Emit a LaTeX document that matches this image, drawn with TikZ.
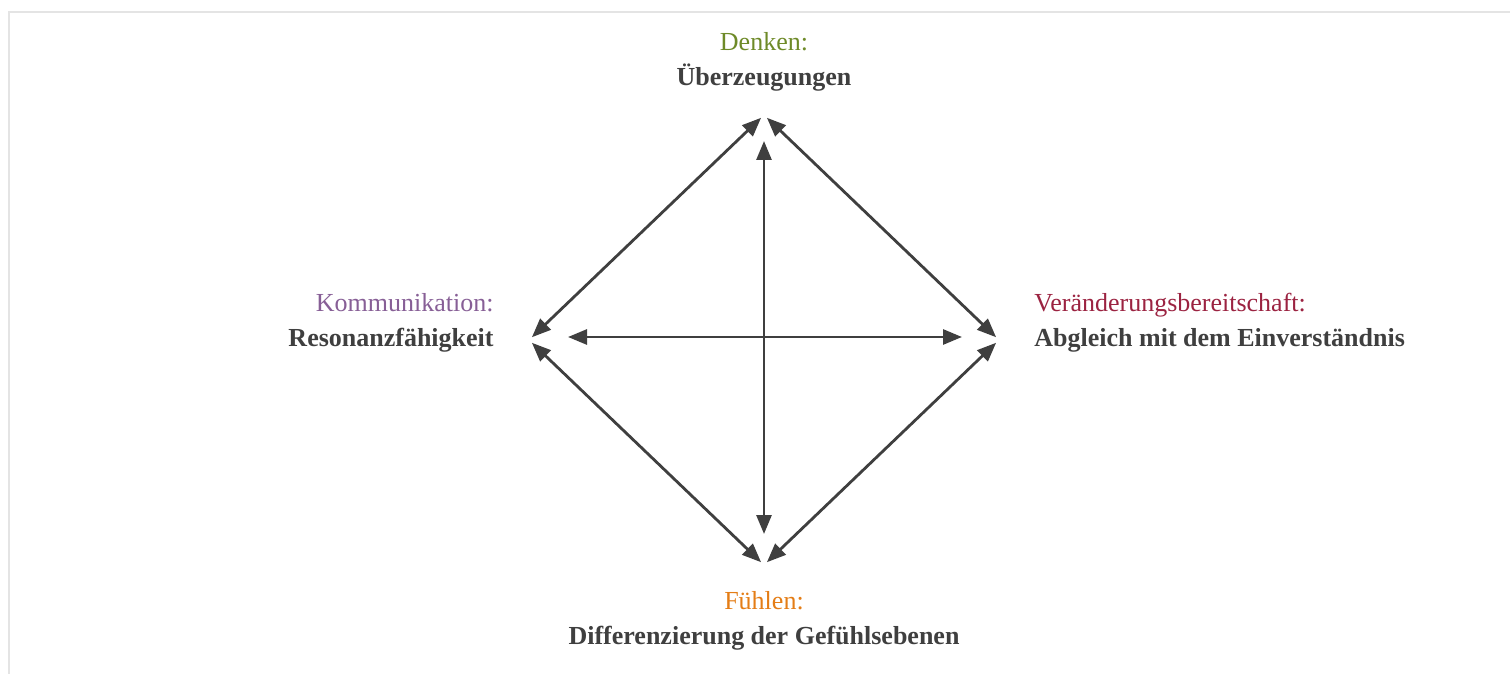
\documentclass[tikz,border=0pt]{standalone}
\usepackage{fontspec}
\setmainfont{Liberation Serif}
\usepackage{tikz}
\usetikzlibrary{arrows.meta}
\definecolor{denkgreen}{RGB}{110,138,40}
\definecolor{kommpurple}{RGB}{135,95,150}
\definecolor{verared}{RGB}{155,35,65}
\definecolor{fuehlorange}{RGB}{228,125,22}
\definecolor{linegray}{RGB}{63,63,63}
\definecolor{framegray}{RGB}{228,228,228}

\begin{document}
\begin{tikzpicture}[x=0.5pt,y=-0.5pt,>={Triangle[length=9.5pt,width=7.5pt]},line width=1.4pt]
\tikzstyle{head}=[font=\fontsize{13}{16}\selectfont, inner sep=0pt]
\tikzstyle{main}=[font=\fontsize{13}{16}\selectfont\bfseries, text=linegray, inner sep=0pt]
\tikzstyle{link}=[<->, draw=linegray, shorten <=2pt, shorten >=2pt]
\tikzstyle{cross}=[<->, draw=linegray]
\useasboundingbox (0,0) rectangle (1510,674);
\draw[framegray, line width=1pt] (9,674) -- (9,12) -- (1510,12);
% the four poles
\node[head,text=denkgreen,anchor=base] (denken) at (764,51) {Denken:};
\node[main,anchor=base] (ueber) at (764,86) {Überzeugungen};
\node[head,text=kommpurple,anchor=base east] (komm) at (495,311) {Kommunikation:};
\node[main,anchor=base east] (reso) at (495,346) {Resonanzfähigkeit};
\node[head,text=verared,anchor=base west] (vera) at (1033,311) {Veränderungsbereitschaft:};
\node[main,anchor=base west] (abgl) at (1033,346) {Abgleich mit dem Einverständnis};
\node[head,text=fuehlorange,anchor=base] (fuehl) at (764,609) {Fühlen:};
\node[main,anchor=base] (diff) at (764,644) {Differenzierung der Gefühlsebenen};
% corners of the diamond and ends of the cross
\coordinate (T) at (764,115);
\coordinate (L) at (529,340);
\coordinate (R) at (999,340);
\coordinate (B) at (764,565);
\coordinate (Vt) at (764,141);
\coordinate (Vb) at (764,534);
\coordinate (Hl) at (568,337);
\coordinate (Hr) at (962,337);
\draw[link] (T) -- (L);
\draw[link] (T) -- (R);
\draw[link] (B) -- (L);
\draw[link] (B) -- (R);
\draw[cross] (Vt) -- (Vb);
\draw[cross] (Hl) -- (Hr);
\end{tikzpicture}
\end{document}
